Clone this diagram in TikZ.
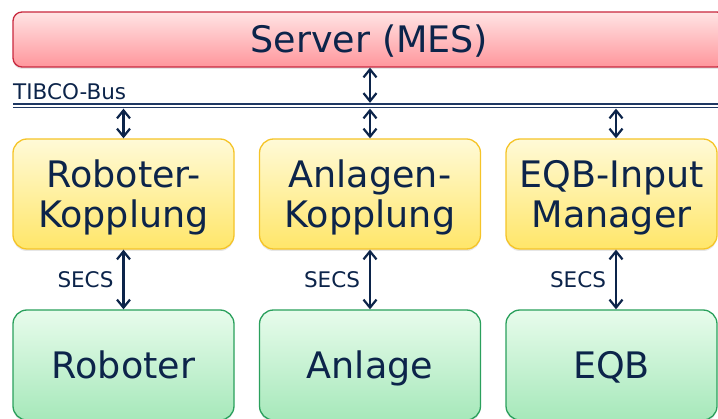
\documentclass[tikz,border=0pt]{standalone}
\usepackage{fontspec}
\setmainfont{DejaVu Sans}
\usepackage{xcolor}
\usetikzlibrary{arrows.meta,positioning,shadows}

\definecolor{navy}{RGB}{12,36,74}
\definecolor{busblue}{RGB}{30,55,98}
\definecolor{srvline}{RGB}{200,40,62}
\definecolor{srvtop}{RGB}{255,228,228}
\definecolor{srvbot}{RGB}{255,150,156}
\definecolor{cplline}{RGB}{245,196,40}
\definecolor{cpltop}{RGB}{255,250,215}
\definecolor{cplbot}{RGB}{255,230,105}
\definecolor{devline}{RGB}{42,160,92}
\definecolor{devtop}{RGB}{232,252,236}
\definecolor{devbot}{RGB}{166,232,186}

\begin{document}
\begin{tikzpicture}[x=1pt, y=-1pt,
    box/.style={rectangle, draw, line width=1.3pt, rounded corners=14pt, text=navy, align=center,
        font=\fontsize{36.5}{40}\selectfont, text depth=0pt,
        drop shadow={shadow xshift=0pt, shadow yshift=-2pt, opacity=0.2}},
    server/.style={box, draw=srvline, top color=srvtop, bottom color=srvbot,
        minimum width=713pt, minimum height=55pt, rounded corners=9pt, text height=26pt},
    coupler/.style={box, draw=cplline, top color=cpltop, bottom color=cplbot,
        minimum width=221pt, minimum height=110pt, text height=67pt},
    device/.style={box, draw=devline, top color=devtop, bottom color=devbot,
        minimum width=221pt, minimum height=110pt, text height=27pt},
    bus/.style={draw=busblue, line width=1.7pt, double=white, double distance=2pt},
    link/.style={draw=navy, line width=2.2pt, >={Straight Barb[length=8pt,width=13pt]}, <->},
    tag/.style={text=navy, font=\fontsize{21.5}{24}\selectfont, inner sep=0pt}]

    \useasboundingbox (0,0) rectangle (718,419);
    \clip (0,0) rectangle (718,419);

    % Nodes
    \node [server] (srv) at (369.5,39.5) {Server (MES)};
    \node [coupler] (rob) at (123.5,194) {Roboter-\\Kopplung};
    \node [coupler, right of=rob, node distance=246.5pt] (anl) {Anlagen-\\Kopplung};
    \node [coupler, right of=anl, node distance=241.5pt, minimum width=211pt] (mgr) {EQB-Input\\Manager};
    \node [device, below of=rob, node distance=171pt] (robd) {Roboter};
    \node [device, below of=anl, node distance=171pt] (anld) {Anlage};
    \node [device, below of=mgr, node distance=171pt, minimum width=211pt] (eqb) {EQB};

    % Bus
    \coordinate (busw) at (13,105.75);
    \coordinate (buse) at (740,105.75);
    \coordinate (c3) at (616,0);
    \draw [bus] (busw) -- (buse);
    \node [tag, anchor=base west] (tibco) at ([yshift=5.75pt]busw) {TIBCO-Bus};

    % Paths
    \draw [link, shorten >=2.9pt] (anl.north |- srv.south) -- (anl.north |- busw);
    \draw [link, shorten <=2.9pt] (rob.north |- busw) -- (rob.north);
    \draw [link, shorten <=2.9pt] (anl.north |- busw) -- (anl.north);
    \draw [link, shorten <=2.9pt] (c3 |- busw) -- (c3 |- mgr.north);
    \draw [link] (rob) -- node [tag, left=9pt] {SECS} (robd);
    \draw [link] (anl) -- node [tag, left=9pt] {SECS} (anld);
    \draw [link] (c3 |- mgr.south) -- node [tag, left=9pt] {SECS} (c3 |- eqb.north);

\end{tikzpicture}
\end{document}
